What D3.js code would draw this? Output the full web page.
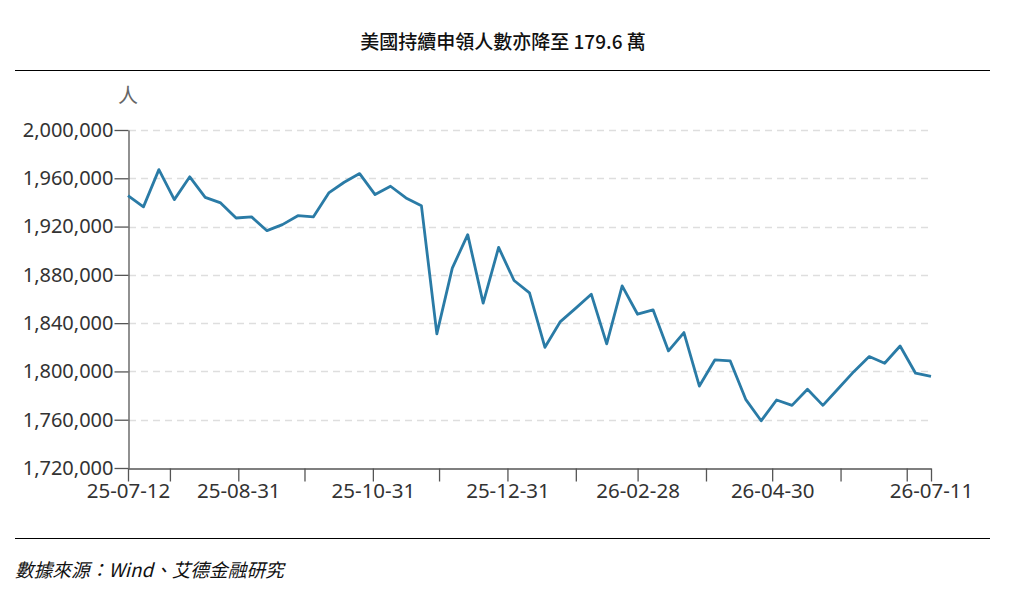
<!DOCTYPE html>
<html>
<head>
<meta charset="utf-8">
<script src="https://cdn.jsdelivr.net/npm/d3@7"></script>
<style>
  body { margin: 0; background: #fff; }
  svg { display: block; }
</style>
</head>
<body>
<div id="chart"></div>
<script>
// data: weekly continuing claims, 2025-07-12 .. 2026-07-11
const startDate = new Date(2025, 6, 12);
const endDate = new Date(2026, 6, 11);
const claims = [
  1945600, 1936300, 1967200, 1942300, 1961200, 1944200, 1939600, 1927100, 1928000, 1916600,
  1921600, 1929000, 1928000, 1947900, 1956700, 1963900, 1946500, 1953400, 1943700, 1937300,
  1831100, 1885600, 1913300, 1856600, 1902700, 1875300, 1865000, 1820000, 1841300, 1852400,
  1864000, 1822800, 1870900, 1847400, 1851000, 1817000, 1832200, 1787900, 1809500, 1808700,
  1776900, 1759100, 1776300, 1771900, 1785200, 1771900, 1785900, 1799800, 1812300, 1806800,
  1821100, 1798500, 1796000
];
const yTicks = [1720000, 1760000, 1800000, 1840000, 1880000, 1920000, 1960000, 2000000];
const xTickDates = [
  '2025-07-12', '2025-07-31', '2025-08-31', '2025-09-30', '2025-10-31', '2025-11-30',
  '2025-12-31', '2026-01-31', '2026-02-28', '2026-03-31', '2026-04-30', '2026-05-31',
  '2026-06-30', '2026-07-11'
];
const xLabelDates = ['2025-07-12', '2025-08-31', '2025-10-31', '2025-12-31', '2026-02-28', '2026-04-30', '2026-07-11'];

const parse = d3.timeParse('%Y-%m-%d');
const fmt = d3.timeFormat('%y-%m-%d');
const dates = d3.timeDay.range(startDate, d3.timeDay.offset(endDate, 1), 7);
const data = dates.map((d, i) => ({ date: d, value: claims[i] }));

const W = 1010, H = 601;
const svg = d3.select('#chart').append('svg').attr('width', W).attr('height', H);

// title + rules
svg.append('text')
  .attr('x', 503).attr('y', 49)
  .attr('text-anchor', 'middle')
  .style('font-family', '"Noto Sans CJK TC", "Noto Sans", sans-serif')
  .style('font-size', '19px')
  .style('font-weight', 500)
  .attr('fill', '#111')
  .text('美國持續申領人數亦降至 179.6 萬');
svg.append('line').attr('x1', 15).attr('x2', 990).attr('y1', 70.5).attr('y2', 70.5)
  .attr('stroke', '#000').attr('stroke-width', 1.2);
svg.append('line').attr('x1', 15).attr('x2', 990).attr('y1', 538.5).attr('y2', 538.5)
  .attr('stroke', '#000').attr('stroke-width', 1.2);
svg.append('text')
  .attr('x', 15).attr('y', 577)
  .style('font-family', '"Noto Sans CJK TC", sans-serif')
  .style('font-size', '18.7px')
  .style('font-style', 'italic')
  .attr('fill', '#111')
  .text('數據來源：Wind、艾德金融研究');

// scales
const x = d3.scaleTime().domain([startDate, endDate]).range([128, 931]);
const y = d3.scaleLinear().domain([1720000, 2000000]).range([468, 130]);

// grid
svg.append('g')
  .selectAll('line')
  .data(yTicks.slice(1))
  .join('line')
  .attr('x1', 129).attr('x2', 929)
  .attr('y1', d => Math.round(y(d)) + 0.5).attr('y2', d => Math.round(y(d)) + 0.5)
  .attr('stroke', '#dedede')
  .attr('stroke-width', 1.5)
  .attr('stroke-dasharray', '7,5');

// axes
const yAxis = d3.axisLeft(y).tickValues(yTicks).tickFormat(d3.format(',')).tickSize(14).tickSizeOuter(0).tickPadding(1);
const yg = svg.append('g').attr('transform', 'translate(128.5,0)').call(yAxis);

const labelSet = new Set(xLabelDates);
const xAxis = d3.axisBottom(x)
  .tickValues(xTickDates.map(parse))
  .tickFormat(d => labelSet.has(d3.timeFormat('%Y-%m-%d')(d)) ? fmt(d) : '')
  .tickSize(13).tickSizeOuter(0).tickPadding(2);
const xg = svg.append('g').attr('transform', 'translate(0,468.5)').call(xAxis);

[yg, xg].forEach(g => {
  g.selectAll('path, line').attr('stroke', '#555').attr('stroke-width', 1.3);
  g.selectAll('text')
    .attr('fill', '#333')
    .style('font-family', '"Noto Sans", "Open Sans", sans-serif')
    .style('font-size', '20px');
});
xg.selectAll('text').style('font-size', '20.5px');

// unit label
svg.append('text')
  .attr('x', 128).attr('y', 103)
  .attr('text-anchor', 'middle')
  .style('font-family', '"Noto Sans CJK TC", sans-serif')
  .style('font-size', '20px')
  .attr('fill', '#666')
  .text('人');

// line
const line = d3.line().x(d => x(d.date)).y(d => y(d.value));
svg.append('path')
  .datum(data)
  .attr('fill', 'none')
  .attr('stroke', '#2a7ba6')
  .attr('stroke-width', 2.8)
  .attr('stroke-linejoin', 'round')
  .attr('d', line);
</script>
</body>
</html>
